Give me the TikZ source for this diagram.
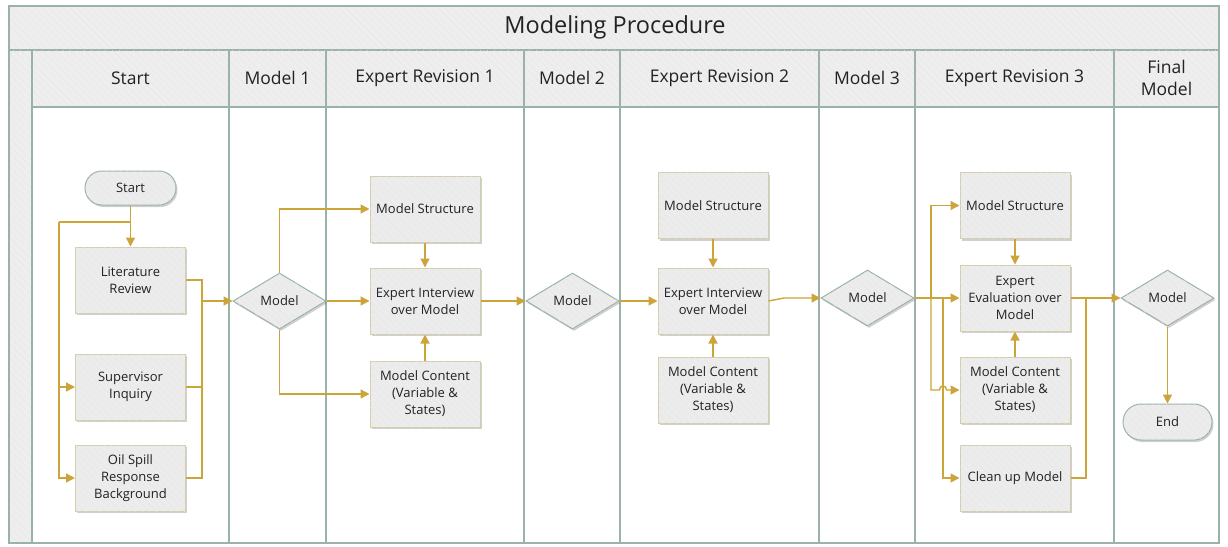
\documentclass[tikz,border=0pt]{standalone}
\usepackage{fontspec}
\setmainfont{Open Sans}
\usetikzlibrary{arrows.meta,shapes.geometric,shadows,patterns.meta}

\definecolor{lanec}{HTML}{9BB2AA}
\definecolor{headfill}{HTML}{EEEEEE}
\definecolor{hatchc}{HTML}{E6E6E6}
\definecolor{boxfill}{HTML}{ECECEC}
\definecolor{boxedge}{HTML}{D5CDA8}
\definecolor{gold}{HTML}{CCA53A}
\definecolor{txt}{HTML}{222222}

\begin{document}
\begin{tikzpicture}[x=1pt,y=-1pt,
  hatch/.style={postaction={pattern={Lines[angle=-45,distance=5pt,line width=0.3pt]},pattern color=hatchc}},
  band/.style={fill=headfill,draw=lanec,line width=1.5pt,hatch},
  lane/.style={draw=lanec,line width=1.5pt},
  headtxt/.style={font=\fontsize{17.5}{22}\selectfont,text=txt,align=center},
  shade/.style={drop shadow={shadow xshift=1.5pt,shadow yshift=-2pt,opacity=.3,fill=black!60}},
  boxtxt/.style={font=\fontsize{13}{17}\selectfont,text=txt},
  proc/.style={rectangle,draw=boxedge,line width=1pt,fill=boxfill,minimum width=110pt,minimum height=66pt,
    inner sep=2pt,align=center,boxtxt,shade,hatch},
  dec/.style={diamond,aspect=1.66,draw=lanec,line width=1pt,fill=boxfill,minimum width=93pt,minimum height=56pt,
    inner sep=0pt,boxtxt,shade,hatch},
  term/.style={rectangle,rounded corners=17pt,draw=lanec,line width=1pt,fill=boxfill,minimum width=91pt,minimum height=34pt,
    inner sep=0pt,boxtxt,shade,hatch},
  conn/.style={draw=gold,line width=1.4pt},
  arr/.style={conn,-{Triangle[length=9pt,width=9pt]}}
]
\useasboundingbox (0,0) rectangle (1228,546);

% pool frame, title band and lane headers
\fill[white] (9,6) rectangle (1219,543);
\path[band] (9,6) rectangle (1219,50);
\path[band] (9,50) rectangle (32,543);
\path[band] (32,50) rectangle (1219,107);
\foreach \xx in {32,229,326,524,620,819,915,1114}
  \draw[lane] (\xx,50) -- (\xx,543);
\draw[lane] (9,6) rectangle (1219,543);
\draw[lane] (32,107) -- (1219,107);

\node[headtxt,font=\fontsize{23.5}{28}\selectfont] (title) at (615,27) {Modeling Procedure};
\node[headtxt] (h1) at (130.5,78) {Start};
\node[headtxt] (h2) at (277.5,78) {Model 1};
\node[headtxt] (h3) at (425,78) {Expert Revision 1};
\node[headtxt] (h4) at (572,78) {Model 2};
\node[headtxt] (h5) at (719.5,78) {Expert Revision 2};
\node[headtxt] (h6) at (867,78) {Model 3};
\node[headtxt] (h7) at (1014.5,78) {Expert Revision 3};
\node[headtxt] (h8) at (1166.5,78) {Final\\Model};

% Start lane
\node[term] (start) at (130.5,188) {Start};
\node[proc] (lit) at (130.5,280) {Literature\\Review};
\node[proc] (sup) at (130.5,387) {Supervisor\\Inquiry};
\node[proc] (oil) at (130.5,478) {Oil Spill\\Response\\Background};

% Model 1 lane
\node[dec] (d1) at (279.5,301) {Model};

% Expert Revision 1 lane
\node[proc] (ms1) at (425,209) {Model Structure};
\node[proc] (ei1) at (425,301) {Expert Interview\\over Model};
\node[proc] (mc1) at (425,394) {Model Content\\(Variable \&\\States)};

% Model 2 lane
\node[dec] (d2) at (572.5,301) {Model};

% Expert Revision 2 lane
\node[proc] (ms2) at (713,205.5) {Model Structure};
\node[proc] (ei2) at (713,301) {Expert Interview\\over Model};
\node[proc] (mc2) at (713,390) {Model Content\\(Variable \&\\States)};

% Model 3 lane
\node[dec] (d3) at (867.5,298) {Model};

% Expert Revision 3 lane
\node[proc] (ms3) at (1015,205.5) {Model Structure};
\node[proc] (ee3) at (1015,298) {Expert\\Evaluation over\\Model};
\node[proc] (mc3) at (1015,390) {Model Content\\(Variable \&\\States)};
\node[proc] (cu3) at (1015,478) {Clean up Model};

% Final Model lane
\node[dec] (d4) at (1167.5,298) {Model};
\node[term,minimum width=89pt,minimum height=36pt,rounded corners=18pt] (endn) at (1167.5,422) {End};

% connectors: start lane
\coordinate (sb) at (130.5,222);
\coordinate (sl) at (59,222);
\coordinate (j1) at (202,301);
\draw[arr] (start) -- (lit);
\draw[conn] (sb) -- (sl);
\draw[arr] (sl) |- (sup.west);
\draw[arr] (sl) |- (oil.west);
\draw[conn] (lit.east) -| (j1);
\draw[conn] (sup.east) -| (j1);
\draw[conn] (oil.east) -| (j1);
\draw[arr] (j1) -- (d1.west);

% connectors: first revision
\draw[arr] (d1.north) |- (ms1.west);
\draw[arr] (d1.east) -- (ei1.west);
\draw[arr] (d1.south) |- (mc1.west);
\draw[arr] (ms1) -- (ei1);
\draw[arr] (mc1) -- (ei1);
\draw[arr] (ei1.east) -- (d2.west);

% connectors: second revision
\draw[arr] (d2.east) -- (ei2.west);
\draw[arr] (ms2) -- (ei2);
\draw[arr] (mc2) -- (ei2);
\coordinate (k2) at (784,298);
\draw[arr] (ei2.east) -- (k2) -- (d3.west);

% connectors: third revision
\coordinate (b1) at (931,298);
\coordinate (b2) at (943,298);
\coordinate (j3) at (1086,298);
\draw[arr] (d3.east) -- (ee3.west);
\draw[arr] (b1) |- (ms3.west);
\draw[arr] (b2) |- (cu3.west);
\draw[arr] (b1) |- (939.5,390) .. controls (939.5,384.5) and (946.5,384.5) .. (946.5,390) -- (mc3.west);
\draw[arr] (ms3) -- (ee3);
\draw[arr] (mc3) -- (ee3);
\draw[arr] (ee3.east) -- (d4.west);
\draw[conn] (cu3.east) -| (j3);

% connectors: final model
\draw[arr] (d4) -- (endn);
\end{tikzpicture}
\end{document}
